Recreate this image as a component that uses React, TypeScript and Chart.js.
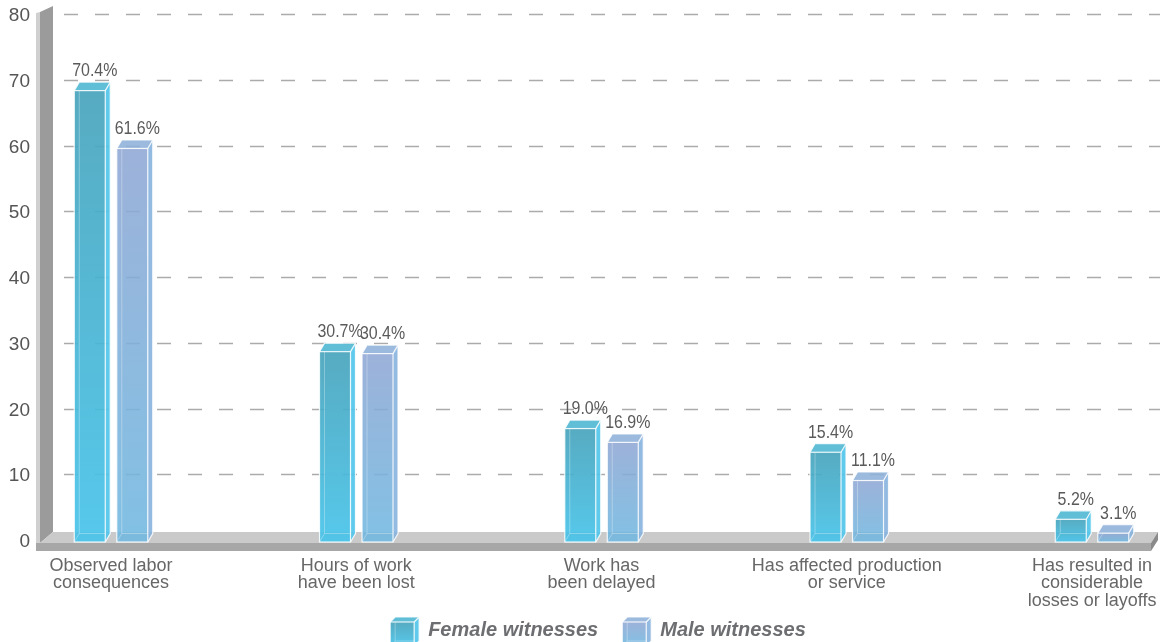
import React, { useEffect, useRef } from "react";
import { Chart, registerables } from "chart.js";

Chart.register(...registerables);

const categoryLabels: string[][] = [
  ["Observed labor", "consequences"],
  ["Hours of work", "have been lost"],
  ["Work has", "been delayed"],
  ["Has affected production", "or service"],
  ["Has resulted in", "considerable", "losses or layoffs"],
];
const seriesNames = ["Female witnesses", "Male witnesses"];
const femaleValues = [70.4, 30.7, 19.0, 15.4, 5.2];
const maleValues = [61.6, 30.4, 16.9, 11.1, 3.1];
const yTickValues = [0, 10, 20, 30, 40, 50, 60, 70, 80];

const FONT = "'Liberation Sans', Arial, sans-serif";

const DX = 5;
const DY = -8.5;
const FRONT_DROP = 13.5;
const CONDENSE = 0.84;

const palettes = [
  {
    frontTop: "rgba(72,164,188,0.92)",
    frontBottom: "rgba(72,196,234,0.92)",
    side: "rgba(82,198,236,0.92)",
    top: "rgba(84,184,212,0.92)",
  },
  {
    frontTop: "rgba(143,167,212,0.88)",
    frontBottom: "rgba(112,184,224,0.88)",
    side: "rgba(132,178,222,0.88)",
    top: "rgba(142,176,218,0.88)",
  },
];

type Pal = (typeof palettes)[number];

function poly(ctx: CanvasRenderingContext2D, pts: number[][]) {
  ctx.beginPath();
  ctx.moveTo(pts[0][0], pts[0][1]);
  for (let i = 1; i < pts.length; i++) ctx.lineTo(pts[i][0], pts[i][1]);
  ctx.closePath();
}

function drawBox(
  ctx: CanvasRenderingContext2D,
  x0: number,
  x1: number,
  yT: number,
  yB: number,
  pal: Pal,
  dx: number,
  dy: number
) {
  const g = ctx.createLinearGradient(0, yT, 0, yB);
  g.addColorStop(0, pal.frontTop);
  g.addColorStop(1, pal.frontBottom);
  ctx.fillStyle = g;
  ctx.fillRect(x0, yT, x1 - x0, yB - yT);
  ctx.strokeStyle = "rgba(255,255,255,0.3)";
  ctx.lineWidth = 1;
  ctx.beginPath();
  ctx.moveTo(x0 + dx, yT + dy);
  ctx.lineTo(x0 + dx, yB + dy);
  ctx.lineTo(x1 + dx, yB + dy);
  ctx.moveTo(x0, yB);
  ctx.lineTo(x0 + dx, yB + dy);
  ctx.stroke();
  ctx.fillStyle = pal.side;
  poly(ctx, [
    [x1, yT],
    [x1 + dx, yT + dy],
    [x1 + dx, yB + dy],
    [x1, yB],
  ]);
  ctx.fill();
  ctx.fillStyle = pal.top;
  poly(ctx, [
    [x0, yT],
    [x0 + dx, yT + dy],
    [x1 + dx, yT + dy],
    [x1, yT],
  ]);
  ctx.fill();
  ctx.strokeStyle = "rgba(255,255,255,0.85)";
  ctx.lineWidth = 1.2;
  ctx.strokeRect(x0, yT, x1 - x0, yB - yT);
  ctx.beginPath();
  ctx.moveTo(x0, yT);
  ctx.lineTo(x0 + dx, yT + dy);
  ctx.lineTo(x1 + dx, yT + dy);
  ctx.lineTo(x1 + dx, yB + dy);
  ctx.lineTo(x1, yB);
  ctx.moveTo(x1, yT);
  ctx.lineTo(x1 + dx, yT + dy);
  ctx.stroke();
}

function condensedText(ctx: CanvasRenderingContext2D, text: string, x: number, y: number) {
  ctx.save();
  ctx.translate(x, y);
  ctx.scale(CONDENSE, 1);
  ctx.fillText(text, 0, 0);
  ctx.restore();
}

const threeDPlugin = {
  id: "threeD",
  beforeDatasetsDraw(chart: any) {
    const ctx: CanvasRenderingContext2D = chart.ctx;
    const ys = chart.scales.y;
    const area = chart.chartArea;
    const y0 = ys.getPixelForValue(0);
    const yTop = ys.getPixelForValue(yTickValues[yTickValues.length - 1]);
    ctx.save();
    ctx.setLineDash([14, 17]);
    ctx.strokeStyle = "#ABABAB";
    ctx.lineWidth = 1.5;
    yTickValues.forEach((v) => {
      if (v === 0) return;
      const py = Math.round(ys.getPixelForValue(v)) + 0.5;
      ctx.beginPath();
      ctx.moveTo(area.left + 8, py);
      ctx.lineTo(area.right, py);
      ctx.stroke();
    });
    ctx.setLineDash([]);
    const L = area.left;
    const R = area.right;
    ctx.fillStyle = "#D0D0D0";
    poly(ctx, [
      [L - 20, yTop - 1],
      [L - 16, yTop - 2],
      [L - 16, y0 + 11],
      [L - 20, y0 + 11],
    ]);
    ctx.fill();
    ctx.fillStyle = "#9B9B9B";
    poly(ctx, [
      [L - 16, yTop - 2],
      [L - 3, yTop - 8],
      [L - 3, y0 - 8],
      [L - 16, y0 + 3],
    ]);
    ctx.fill();
    ctx.fillStyle = "#CACACA";
    poly(ctx, [
      [L - 3, y0 - 8],
      [R - 2, y0 - 8],
      [R - 9, y0 + 3],
      [L - 16, y0 + 3],
    ]);
    ctx.fill();
    ctx.fillStyle = "#A7A7A7";
    poly(ctx, [
      [L - 20, y0 + 3],
      [R - 9, y0 + 3],
      [R - 9, y0 + 11],
      [L - 20, y0 + 11],
    ]);
    ctx.fill();
    ctx.fillStyle = "#8A8A8A";
    poly(ctx, [
      [R - 9, y0 + 3],
      [R - 2, y0 - 8],
      [R - 2, y0],
      [R - 9, y0 + 11],
    ]);
    ctx.fill();
    ctx.restore();
  },
  afterDatasetsDraw(chart: any) {
    const ctx: CanvasRenderingContext2D = chart.ctx;
    const ys = chart.scales.y;
    const y0 = ys.getPixelForValue(0);
    ctx.save();
    chart.data.datasets.forEach((ds: any, di: number) => {
      const meta = chart.getDatasetMeta(di);
      meta.data.forEach((el: any, i: number) => {
        const { x, y, width } = el.getProps(["x", "y", "width"], true);
        const x0 = x - width / 2;
        const x1 = x + width / 2;
        const yT = y + FRONT_DROP;
        const yB = y0 + 2;
        drawBox(ctx, x0, x1, yT, yB, palettes[di], DX, DY);
        const v = ds.data[i].y;
        ctx.fillStyle = "#5A5A5A";
        ctx.font = `19px ${FONT}`;
        ctx.textAlign = "center";
        ctx.textBaseline = "alphabetic";
        condensedText(ctx, v.toFixed(1) + "%", x + DX, yT + DY - 6);
      });
    });
    ctx.restore();
  },
  afterDraw(chart: any) {
    const ctx: CanvasRenderingContext2D = chart.ctx;
    ctx.save();
    ctx.font = `italic bold 20px ${FONT}`;
    const iconW = 24;
    const iconDepth = 5;
    const gapIconText = 9;
    const gapItems = 24;
    const names: string[] = chart.data.datasets.map((d: any) => d.label);
    const widths = names.map((n) => ctx.measureText(n).width);
    let total = 0;
    widths.forEach((w, i) => {
      total += iconW + iconDepth + gapIconText + w + (i < widths.length - 1 ? gapItems : 0);
    });
    let cx = chart.width / 2 + 17 - total / 2;
    const midY = 630;
    names.forEach((n, i) => {
      drawBox(ctx, cx, cx + iconW, 622, 646, palettes[i], iconDepth, -5);
      ctx.fillStyle = "#6D6E71";
      ctx.textAlign = "left";
      ctx.textBaseline = "middle";
      ctx.fillText(n, cx + iconW + iconDepth + gapIconText, midY);
      cx += iconW + iconDepth + gapIconText + widths[i] + gapItems;
    });
    ctx.restore();
  },
};

export default function App() {
  const canvasRef = useRef<HTMLCanvasElement | null>(null);
  useEffect(() => {
    if (!canvasRef.current) return;
    const chart = new Chart(canvasRef.current, {
      type: "bar",
      data: {
        datasets: [
          {
            label: seriesNames[0],
            data: femaleValues.map((v, i) => ({ x: i, y: v })),
            backgroundColor: "rgba(0,0,0,0)",
            borderWidth: 0,
          },
          {
            label: seriesNames[1],
            data: maleValues.map((v, i) => ({ x: i, y: v })),
            backgroundColor: "rgba(0,0,0,0)",
            borderWidth: 0,
          },
        ],
      },
      options: {
        responsive: false,
        animation: false,
        devicePixelRatio: 1,
        layout: { padding: { top: 14, right: 2, left: 0, bottom: 0 }, autoPadding: false },
        datasets: {
          bar: { categoryPercentage: 0.3466, barPercentage: 0.729 },
        },
        plugins: {
          legend: { display: false },
          tooltip: { enabled: false },
        },
        scales: {
          x: {
            type: "linear",
            offset: false,
            bounds: "data",
            min: -0.2243,
            max: 4.2772,
            grid: { display: false, drawTicks: false, offset: false },
            border: { display: false },
            afterBuildTicks: (scale: any) => {
              scale.ticks = categoryLabels.map((_, i) => ({ value: i }));
            },
            afterFit: (scale: any) => {
              scale.height = 102;
              scale.paddingLeft = 0;
              scale.paddingRight = 0;
            },
            ticks: {
              autoSkip: false,
              maxRotation: 0,
              minRotation: 0,
              padding: 17,
              color: "#676767",
              font: { family: FONT, size: 18, lineHeight: 0.97 },
              callback: (value: any) => categoryLabels[value as number] ?? "",
            },
          },
          y: {
            min: 0,
            max: 80,
            grid: { display: false, drawTicks: false },
            border: { display: false },
            afterFit: (scale: any) => {
              scale.width = 56;
              scale.paddingTop = 0;
              scale.paddingBottom = 0;
            },
            afterBuildTicks: (scale: any) => {
              scale.ticks = yTickValues.map((v) => ({ value: v }));
            },
            ticks: {
              padding: 26,
              labelOffset: 2,
              color: "#555555",
              font: { family: FONT, size: 19 },
            },
          },
        },
      },
      plugins: [threeDPlugin],
    } as any);
    return () => chart.destroy();
  }, []);
  return (
    <div style={{ position: "absolute", left: 0, top: 0, width: 1162, height: 642, background: "#fff" }}>
      <canvas ref={canvasRef} width={1162} height={642} style={{ display: "block" }} />
    </div>
  );
}
